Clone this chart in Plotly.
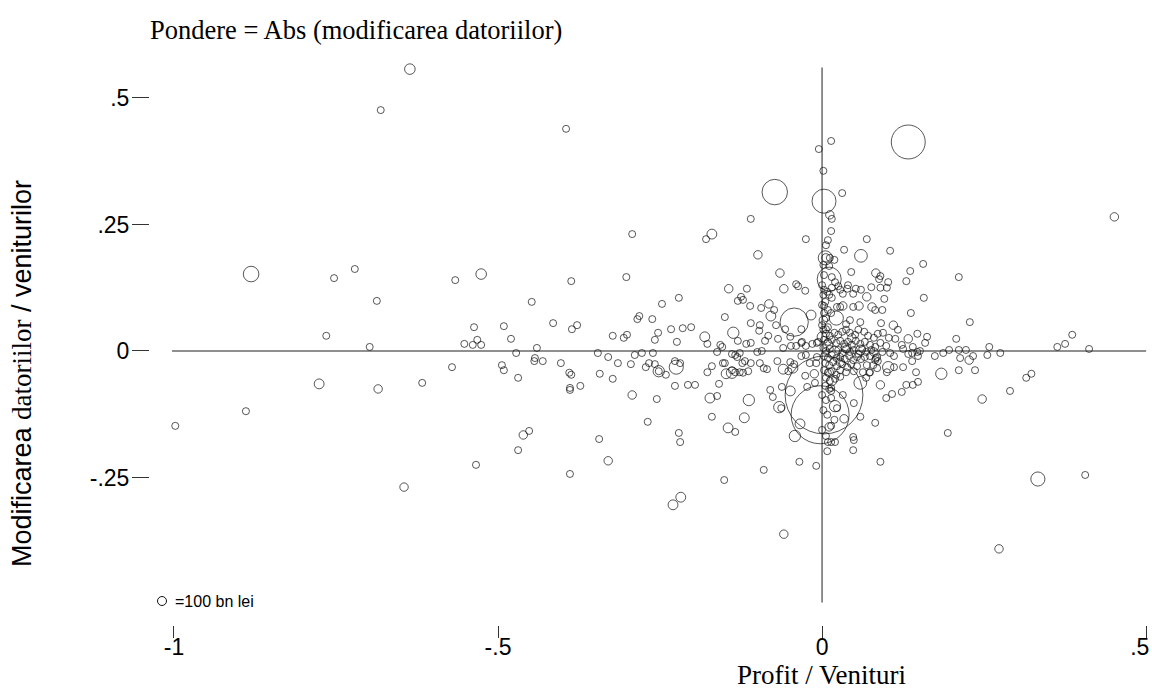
import plotly.graph_objects as go

# (profit/venituri, modificarea datoriilor/venituri, |modificarea datoriilor| in bn lei)
pts_stanga = [
    (-0.998, -0.148, 31), (-0.889, -0.119, 31), (-0.881, 0.152, 150), (-0.765, 0.030, 20),
    (-0.776, -0.065, 60), (-0.753, 0.144, 20), (-0.721, 0.162, 20), (-0.687, 0.099, 20),
    (-0.698, 0.008, 20), (-0.685, -0.075, 44), (-0.645, -0.269, 44), (-0.636, 0.557, 69),
    (-0.681, 0.476, 20), (-0.617, -0.063, 20), (-0.566, 0.140, 20), (-0.571, -0.032, 20),
    (-0.526, 0.152, 69), (-0.552, 0.014, 20), (-0.539, 0.012, 20), (-0.526, 0.012, 20),
    (-0.532, 0.022, 20), (-0.537, 0.047, 20), (-0.534, -0.225, 31), (-0.491, 0.049, 20),
    (-0.494, -0.028, 20), (-0.491, -0.038, 31), (-0.480, 0.024, 20), (-0.472, -0.004, 20),
    (-0.469, -0.053, 20), (-0.461, -0.166, 44), (-0.452, -0.158, 20), (-0.469, -0.196, 20),
    (-0.448, 0.097, 20), (-0.440, 0.006, 20), (-0.443, -0.014, 20), (-0.444, -0.020, 20),
    (-0.431, -0.020, 20), (-0.415, 0.055, 20), (-0.403, -0.024, 20), (-0.395, 0.439, 20),
    (-0.387, 0.138, 20), (-0.378, 0.051, 31), (-0.386, 0.043, 20), (-0.390, -0.043, 31),
    (-0.387, -0.047, 31), (-0.389, -0.073, 20), (-0.389, -0.077, 20), (-0.373, -0.069, 20),
    (-0.389, -0.243, 20), (-0.346, -0.004, 31), (-0.330, -0.012, 20), (-0.343, -0.045, 20),
    (-0.323, -0.055, 20), (-0.323, 0.030, 20), (-0.344, -0.174, 20), (-0.330, -0.217, 44),
    (-0.315, -0.024, 20), (-0.302, 0.146, 31), (-0.293, 0.231, 20), (-0.301, 0.032, 20),
    (-0.306, 0.026, 20), (-0.295, -0.026, 20), (-0.293, -0.087, 44), (-0.289, -0.008, 20),
    (-0.278, -0.004, 20), (-0.261, -0.004, 20), (-0.285, 0.063, 20), (-0.282, 0.069, 20),
    (-0.262, 0.063, 20), (-0.258, 0.022, 20), (-0.253, 0.036, 20), (-0.272, -0.032, 20),
    (-0.267, -0.024, 20), (-0.258, -0.026, 20), (-0.252, -0.040, 79), (-0.252, -0.040, 20),
    (-0.241, -0.047, 20), (-0.269, -0.140, 20), (-0.255, -0.095, 20), (-0.247, 0.093, 20),
    (-0.233, 0.043, 31), (-0.224, 0.018, 31), (-0.221, 0.105, 20), (-0.215, 0.045, 20),
    (-0.225, -0.032, 123), (-0.227, -0.020, 20), (-0.219, -0.024, 20), (-0.227, -0.069, 31),
    (-0.207, -0.067, 20), (-0.221, -0.162, 20), (-0.219, -0.180, 31), (-0.230, -0.304, 60),
    (-0.218, -0.289, 60),
]

pts_centru_stanga = [
    (-0.202, 0.047, 20), (-0.181, 0.028, 60), (-0.177, 0.014, 20), (-0.179, 0.221, 20),
    (-0.170, 0.231, 60), (-0.137, 0.036, 79), (-0.157, 0.012, 20), (-0.154, 0.008, 20),
    (-0.130, 0.020, 20), (-0.117, 0.014, 20), (-0.110, 0.016, 20), (-0.110, 0.055, 20),
    (-0.096, 0.051, 20), (-0.097, 0.040, 20), (-0.083, 0.030, 20), (-0.071, 0.051, 20),
    (-0.068, 0.024, 20), (-0.162, -0.002, 20), (-0.139, -0.006, 20), (-0.134, -0.008, 20),
    (-0.131, -0.012, 20), (-0.127, -0.004, 20), (-0.100, -0.002, 20), (-0.093, 0.000, 20),
    (-0.170, -0.030, 20), (-0.177, -0.042, 20), (-0.153, -0.024, 20), (-0.150, -0.024, 20),
    (-0.148, -0.045, 60), (-0.139, -0.038, 20), (-0.134, -0.042, 20), (-0.139, -0.043, 79),
    (-0.127, -0.042, 20), (-0.122, -0.043, 20), (-0.119, -0.020, 20), (-0.123, -0.024, 20),
    (-0.110, -0.024, 20), (-0.114, -0.040, 20), (-0.096, -0.024, 20), (-0.090, -0.034, 20),
    (-0.085, -0.036, 20), (-0.069, -0.020, 20), (-0.196, -0.067, 20), (-0.159, -0.065, 20),
    (-0.173, -0.093, 60), (-0.162, -0.089, 20), (-0.113, -0.097, 79), (-0.080, -0.077, 20),
    (-0.076, -0.091, 20), (-0.170, -0.130, 20), (-0.120, -0.132, 60), (-0.145, -0.152, 60),
    (-0.134, -0.160, 20), (-0.151, -0.255, 20), (-0.090, -0.235, 20), (-0.059, -0.362, 44),
    (-0.035, -0.219, 20), (-0.009, -0.227, 20), (-0.066, -0.111, 79), (-0.063, -0.113, 20),
    (-0.062, -0.071, 20), (-0.049, -0.079, 60), (-0.060, -0.036, 60), (-0.052, -0.040, 20),
    (-0.045, -0.034, 60), (-0.049, -0.022, 20), (-0.043, -0.026, 20), (-0.032, -0.010, 20),
    (-0.025, -0.008, 20), (-0.019, -0.024, 20), (-0.009, -0.024, 20), (-0.008, -0.012, 20),
    (-0.026, -0.049, 20), (-0.012, -0.045, 44), (-0.023, -0.071, 20), (-0.011, -0.063, 20),
    (-0.034, -0.144, 60), (-0.042, -0.168, 79), (-0.060, 0.006, 20), (-0.048, 0.010, 20),
    (-0.040, 0.010, 20), (-0.032, 0.016, 20), (-0.025, 0.010, 20), (-0.015, 0.014, 20),
    (-0.006, 0.018, 20), (0.000, 0.028, 60), (-0.088, 0.020, 20), (-0.057, 0.043, 20),
    (-0.032, 0.043, 20), (-0.049, 0.028, 20), (-0.031, 0.018, 20), (-0.008, 0.016, 20),
    (-0.043, 0.057, 494), (-0.017, 0.071, 60), (-0.079, 0.069, 60), (-0.082, 0.093, 44),
    (-0.074, 0.081, 20), (-0.094, 0.085, 20), (-0.111, 0.089, 20), (-0.125, 0.107, 20),
    (-0.122, 0.101, 20), (-0.130, 0.099, 20), (-0.150, 0.067, 20), (-0.144, 0.123, 44),
    (-0.116, 0.123, 20), (-0.059, 0.123, 44), (-0.040, 0.132, 20), (-0.037, 0.128, 20),
    (-0.026, 0.119, 20), (-0.099, 0.190, 44), (-0.065, 0.154, 44), (-0.110, 0.261, 20),
    (-0.073, 0.314, 400), (-0.025, 0.221, 20),
]

pts_centru_sus = [
    (0.003, 0.296, 357), (0.014, 0.415, 20), (-0.005, 0.399, 20), (0.002, 0.356, 20),
    (0.031, 0.312, 20), (0.133, 0.413, 711), (0.012, 0.269, 44), (0.015, 0.261, 20),
    (0.014, 0.237, 20), (0.009, 0.219, 20), (0.006, 0.209, 20), (0.069, 0.221, 20),
    (0.034, 0.200, 20), (0.105, 0.198, 20), (0.060, 0.188, 100), (0.005, 0.184, 123),
    (0.006, 0.184, 44), (0.012, 0.184, 20), (0.019, 0.180, 20), (0.011, 0.168, 20),
    (0.045, 0.156, 20), (0.083, 0.154, 44), (0.090, 0.148, 20), (0.088, 0.142, 20),
    (0.136, 0.158, 20), (0.156, 0.172, 20), (0.102, 0.136, 31), (0.130, 0.138, 31),
    (0.211, 0.146, 20), (0.011, 0.142, 357), (0.015, 0.146, 20), (0.020, 0.136, 20),
    (0.025, 0.128, 20), (0.015, 0.125, 20), (0.028, 0.121, 20), (0.008, 0.117, 20),
    (0.003, 0.121, 20), (0.002, 0.111, 20), (0.011, 0.111, 20), (0.015, 0.105, 20),
    (0.040, 0.130, 20), (0.039, 0.123, 20), (0.052, 0.123, 20), (0.060, 0.121, 20),
    (0.076, 0.126, 20), (0.090, 0.125, 20), (0.100, 0.125, 20), (0.048, 0.113, 20),
    (0.069, 0.107, 44), (0.096, 0.103, 20), (0.157, 0.105, 31), (0.032, 0.113, 20),
    (0.005, 0.097, 20), (0.003, 0.089, 20), (0.023, 0.087, 20), (0.028, 0.087, 20),
    (0.032, 0.089, 44), (0.048, 0.087, 20), (0.057, 0.089, 44), (0.077, 0.087, 44),
    (0.082, 0.081, 20), (0.093, 0.081, 20), (0.137, 0.075, 31), (0.009, 0.081, 20),
    (0.014, 0.075, 20), (0.022, 0.065, 123), (0.002, 0.061, 44), (0.043, 0.061, 20),
    (0.037, 0.053, 20), (0.059, 0.057, 20), (0.091, 0.055, 20), (0.110, 0.051, 44),
    (0.117, 0.042, 20), (0.094, 0.036, 20), (0.103, 0.026, 20), (0.113, 0.024, 20),
    (0.133, 0.024, 44), (0.147, 0.034, 31), (0.162, 0.028, 20), (0.159, 0.016, 20),
    (0.207, 0.024, 20), (0.123, 0.012, 20), (0.125, 0.004, 20), (0.140, 0.008, 20),
    (0.000, 0.091, 20), (0.003, 0.075, 20), (0.000, 0.051, 20), (0.006, 0.065, 20),
    (0.002, 0.170, 20), (0.003, 0.150, 20), (0.000, 0.130, 20),
]

pts_nucleu = [
    (0.002, 0.042, 20), (0.006, 0.034, 20), (0.012, 0.030, 20), (0.019, 0.036, 20),
    (0.025, 0.032, 20), (0.031, 0.038, 20), (0.037, 0.042, 20), (0.043, 0.036, 20),
    (0.051, 0.032, 20), (0.056, 0.042, 20), (0.065, 0.038, 20), (0.071, 0.030, 20),
    (0.080, 0.026, 20), (0.086, 0.034, 20),
    (0.003, 0.022, 20), (0.009, 0.018, 20), (0.015, 0.022, 20), (0.022, 0.016, 20),
    (0.028, 0.020, 20), (0.034, 0.014, 20), (0.040, 0.018, 20), (0.046, 0.012, 20),
    (0.052, 0.020, 20), (0.059, 0.014, 20), (0.066, 0.018, 20), (0.074, 0.012, 20),
    (0.082, 0.008, 20), (0.090, 0.016, 20), (0.099, 0.010, 20),
    (0.002, 0.006, 20), (0.006, 0.000, 20), (0.012, 0.004, 20), (0.019, -0.002, 79),
    (0.025, 0.002, 20), (0.031, -0.004, 20), (0.037, 0.004, 20), (0.043, -0.002, 20),
    (0.049, 0.002, 20), (0.056, -0.006, 20), (0.062, 0.004, 20), (0.068, -0.002, 20),
    (0.076, 0.002, 20), (0.093, -0.002, 20),
    (0.003, -0.010, 20), (0.009, -0.014, 20), (0.015, -0.008, 20), (0.022, -0.014, 20),
    (0.028, -0.012, 20), (0.035, -0.016, 20), (0.042, -0.010, 20), (0.048, -0.018, 20),
    (0.054, -0.012, 20), (0.060, -0.016, 20), (0.066, -0.012, 20),
    (0.005, -0.024, 20), (0.011, -0.028, 20), (0.017, -0.022, 20), (0.023, -0.030, 20),
    (0.031, -0.026, 20), (0.039, -0.032, 20), (0.045, -0.026, 20), (0.054, -0.030, 20),
    (0.003, -0.038, 20), (0.009, -0.043, 20), (0.015, -0.040, 20), (0.022, -0.047, 20),
    (0.006, -0.053, 20), (0.012, -0.059, 20), (0.020, -0.055, 20), (0.028, -0.051, 20),
    (0.005, -0.069, 20), (0.011, -0.075, 20),
    (0.000, -0.087, 20), (0.006, -0.097, 20), (0.014, -0.093, 20), (0.002, -0.117, 20),
    (0.008, -0.126, 20), (0.019, -0.136, 20), (0.000, -0.156, 20), (0.006, -0.168, 20),
    (0.037, 0.006, 60), (0.009, 0.012, 60), (0.046, 0.026, 44), (0.028, -0.022, 44),
    (0.059, 0.002, 60), (0.080, -0.002, 44), (0.011, -0.042, 44),
    (0.074, -0.010, 20), (0.085, -0.012, 20), (0.082, -0.018, 20), (0.086, -0.020, 20),
    (0.079, -0.028, 20), (0.085, -0.034, 20), (0.074, -0.042, 20), (0.073, -0.043, 20),
    (0.063, -0.042, 20), (0.068, -0.053, 20), (0.049, -0.040, 20), (0.069, -0.028, 20),
    (0.083, -0.014, 20), (0.037, -0.042, 20), (0.028, -0.038, 20),
    (0.006, 0.043, 20), (0.009, 0.047, 20),
]

pts_centru_jos = [
    (0.003, -0.087, 3736), (-0.003, -0.126, 2076), (0.015, -0.059, 60), (0.014, -0.079, 20),
    (0.014, -0.073, 20), (0.020, -0.109, 79), (0.023, -0.113, 20), (0.011, -0.150, 44),
    (0.014, -0.148, 20), (0.034, -0.134, 44), (0.032, -0.087, 20), (0.049, -0.103, 20),
    (0.059, -0.130, 20), (0.009, -0.180, 20), (0.014, -0.180, 20), (0.020, -0.180, 20),
    (0.008, -0.198, 20), (0.048, -0.170, 20), (0.049, -0.176, 20), (0.048, -0.196, 20),
    (0.151, 0.000, 20), (0.147, -0.002, 20), (0.139, -0.004, 20), (0.174, -0.010, 20),
    (0.187, -0.004, 20), (0.196, 0.002, 20), (0.211, 0.002, 20), (0.222, 0.002, 20),
    (0.148, -0.010, 20), (0.133, -0.006, 20), (0.111, -0.010, 20), (0.105, -0.004, 20),
    (0.139, -0.020, 20), (0.102, -0.032, 79), (0.100, -0.042, 20), (0.111, -0.032, 20),
    (0.125, -0.032, 20), (0.145, -0.042, 20), (0.184, -0.045, 79), (0.211, -0.038, 20),
    (0.090, -0.067, 44), (0.059, -0.063, 100), (0.130, -0.067, 20), (0.140, -0.067, 20),
    (0.148, -0.061, 20), (0.123, -0.081, 20), (0.108, -0.085, 20), (0.099, -0.093, 20),
    (0.082, -0.142, 20), (0.090, -0.219, 20), (0.194, -0.162, 20),
]

pts_dreapta = [
    (0.228, 0.057, 20), (0.386, 0.032, 20), (0.375, 0.014, 20), (0.363, 0.008, 20),
    (0.412, 0.004, 20), (0.258, 0.008, 20), (0.255, -0.008, 20), (0.275, -0.004, 20),
    (0.213, -0.014, 20), (0.227, -0.018, 44), (0.233, -0.010, 20), (0.236, -0.038, 31),
    (0.315, -0.053, 20), (0.323, -0.045, 20), (0.290, -0.079, 20), (0.247, -0.095, 44),
    (0.333, -0.253, 123), (0.406, -0.245, 20), (0.273, -0.391, 44), (0.451, 0.265, 44),
]

x_ticks = [-1, -0.5, 0, 0.5]
x_tick_text = ["-1", "-.5", "0", ".5\u00a0\u00a0"]
y_ticks = [-0.25, 0, 0.25, 0.5]
y_tick_text = ["-.25", "0", ".25", ".5"]

all_pts = pts_stanga + pts_centru_stanga + pts_centru_sus + pts_nucleu + pts_centru_jos + pts_dreapta
xs = [p[0] for p in all_pts]
ys = [p[1] for p in all_pts]
ws = [p[2] for p in all_pts]

SANS = "Liberation Sans, Arial, sans-serif"
SERIF = "Liberation Serif, Times New Roman, serif"

fig = go.Figure()
fig.add_trace(go.Scatter(
    x=xs, y=ys, mode="markers",
    marker=dict(
        size=ws, sizemode="area", sizeref=100 / 81.0, sizemin=3.5,
        symbol="circle-open", color="#111111", line=dict(width=1, color="#111111"),
    ),
    showlegend=False, hoverinfo="skip",
))

line_col = "#6a6a6a"
fig.add_shape(type="line", xref="x", yref="y", x0=-1.003, x1=0.5, y0=0, y1=0,
              line=dict(color=line_col, width=1.5), layer="below")
fig.add_shape(type="line", xref="x", yref="y", x0=0, x1=0, y0=-0.497, y1=0.56,
              line=dict(color=line_col, width=1.5), layer="below")

# legend key
fig.add_shape(type="circle", xref="paper", yref="paper",
              x0=0.0075, x1=0.0165, y0=(625 - 605.5) / 565, y1=(625 - 596.5) / 565,
              line=dict(color="#111111", width=1))
fig.add_annotation(x=0.023, y=(625 - 601) / 565, xref="paper", yref="paper",
                   text="=100 bn lei", showarrow=False, xanchor="left", yanchor="middle",
                   font=dict(family=SANS, size=16, color="black"))

fig.add_annotation(x=-0.002, y=(625 - 30) / 565, xref="paper", yref="paper",
                   text="Pondere = Abs (modificarea datoriilor)", showarrow=False,
                   xanchor="left", yanchor="middle",
                   font=dict(family=SERIF, size=26.5, color="black"))
fig.add_annotation(x=(821 - 150) / 1000, y=(625 - 675) / 565, xref="paper", yref="paper",
                   text="Profit / Venituri", showarrow=False,
                   xanchor="center", yanchor="middle",
                   font=dict(family=SERIF, size=27, color="black"))
fig.add_annotation(x=(22 - 150) / 1000, y=(625 - 374) / 565, xref="paper", yref="paper",
                   text='Modificarea <span style="font-family:Liberation Serif">datoriilor</span> / veniturilor',
                   showarrow=False, textangle=-90, xanchor="center", yanchor="middle",
                   font=dict(family=SANS, size=27, color="black"))

fig.update_layout(
    width=1152, height=689,
    margin=dict(l=150, r=2, t=60, b=64, autoexpand=False),
    paper_bgcolor="white", plot_bgcolor="white",
    xaxis=dict(range=[-1.037, 0.506], tickvals=x_ticks, ticktext=x_tick_text,
               showgrid=False, zeroline=False, showline=False, automargin=False,
               ticks="outside", ticklen=12, tickwidth=1, tickcolor="#333",
               ticklabelstandoff=-11, ticklabeloverflow="allow",
               tickfont=dict(family=SANS, size=23, color="black")),
    yaxis=dict(range=[-0.5415, 0.575], tickvals=y_ticks, ticktext=y_tick_text,
               showgrid=False, zeroline=False, showline=False, automargin=False,
               ticks="outside", ticklen=17, tickwidth=1, tickcolor="#333",
               ticklabelstandoff=-2,
               tickfont=dict(family=SANS, size=23, color="black")),
)

fig.write_html("out.html", config={"displayModeBar": False},
               post_script="document.body.style.margin='0px';document.body.style.overflow='hidden';")
